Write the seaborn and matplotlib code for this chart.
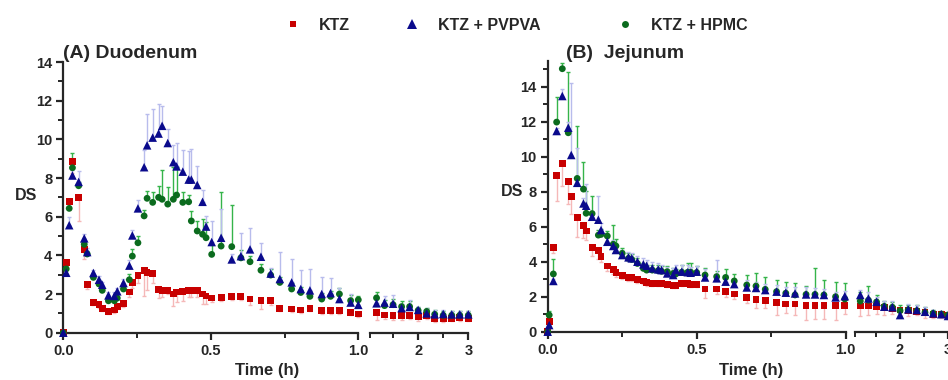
import numpy as np
import pandas as pd
import matplotlib.pyplot as plt
import seaborn as sns
from matplotlib.lines import Line2D
from matplotlib.ticker import MultipleLocator

sns.set_style('ticks')
plt.rcParams['font.family'] = ['Liberation Sans', 'DejaVu Sans']
plt.rcParams['font.weight'] = 'bold'

series = ['KTZ', 'KTZ + PVPVA', 'KTZ + HPMC']
draw_order = ['KTZ', 'KTZ + HPMC', 'KTZ + PVPVA']
colors = {'KTZ': '#C80000', 'KTZ + PVPVA': '#0A0A8C', 'KTZ + HPMC': '#0B6B1E'}
err_colors = {'KTZ': '#F5B8B8', 'KTZ + PVPVA': '#B8BCEC', 'KTZ + HPMC': '#35B44A'}
markers = {'KTZ': 's', 'KTZ + PVPVA': '^', 'KTZ + HPMC': 'o'}
sizes = {'KTZ': 24, 'KTZ + PVPVA': 38, 'KTZ + HPMC': 24}

# ---- (A) Duodenum ----
t_duo = [0, 0.01, 0.02, 0.031, 0.052, 0.071, 0.081, 0.102, 0.121, 0.132,
         0.153, 0.173, 0.183, 0.204, 0.224, 0.234, 0.253, 0.274, 0.284, 0.303,
         0.323, 0.335, 0.354, 0.373, 0.384, 0.405, 0.425, 0.434, 0.454, 0.472,
         0.484, 0.503, 0.535, 0.571, 0.602, 0.633, 0.670, 0.703, 0.734, 0.774,
         0.805, 0.836, 0.876, 0.906, 0.936, 0.974, 1.0,
         1.17, 1.33, 1.5, 1.67, 1.83, 2.0, 2.17, 2.33, 2.5, 2.67, 2.83, 3.0]
ktz_duo = [0, 3.65, 6.77, 8.85, 7.0, 4.3, 2.48, 1.56, 1.44, 1.27,
           1.1, 1.17, 1.36, 1.53, 2.1, 2.6, 2.97, 3.21, 3.13, 3.08,
           2.22, 2.2, 2.2, 2.0, 2.1, 2.14, 2.2, 2.2, 2.2, 2.0,
           1.9, 1.79, 1.84, 1.88, 1.88, 1.74, 1.65, 1.65, 1.27, 1.23,
           1.17, 1.27, 1.13, 1.13, 1.13, 1.05, 0.97,
           1.04, 0.92, 0.87, 0.87, 0.9, 0.83, 0.9, 0.71, 0.71, 0.75, 0.78, 0.75]
ktz_duo_err = [0, 0.15, 0.4, 0.6, 1.2, 0.5, 0.2, 0.15, 0.15, 0.15,
               0.15, 0.15, 0.15, 0.2, 0.25, 0.3, 0.4, 1.3, 0.9, 0.5,
               0.4, 0.35, 0.2, 0.6, 0.5, 0.5, 0.35, 0.35, 0.35, 0.5,
               0.4, 0.2, 0.2, 0.2, 0.2, 0.3, 0.45, 0.2, 0.15, 0.15,
               0.15, 0.15, 0.15, 0.15, 0.15, 0.15, 0.15,
               0.4, 0.2, 0.2, 0.2, 0.2, 0.2, 0.2, 0.15, 0.15, 0.15, 0.15, 0.15]
pvpva_duo = [0, 3.1, 5.56, 8.13, 7.8, 4.88, 4.17, 3.09, 2.74, 2.48,
             1.93, 1.9, 2.14, 2.57, 3.47, 5.03, 6.43, 8.56, 9.69, 10.09,
             10.3, 10.7, 9.81, 8.82, 8.6, 8.33, 7.92, 7.92, 7.64, 6.77,
             5.49, 4.69, 4.91, 3.79, 3.96, 4.31, 3.93, 3.06, 2.78, 2.6,
             2.26, 2.19, 2.0, 2.05, 1.74, 1.56, 1.44,
             1.52, 1.56, 1.5, 1.27, 1.33, 1.18, 1.0, 0.95, 0.97, 0.95, 0.95, 0.95]
pvpva_duo_err = [0, 0.2, 0.4, 0.3, 0.55, 0.25, 0.2, 0.15, 0.2, 0.15,
                 0.2, 0.2, 0.15, 0.2, 0.3, 0.3, 0.45, 0.9, 1.6, 1.5,
                 1.55, 1.05, 0.75, 0.9, 1.2, 1.1, 1.5, 1.6, 1.0, 0.6,
                 0.55, 1.08, 1.5, 0.3, 1.2, 1.1, 0.7, 0.3, 1.4, 1.2,
                 1.0, 1.1, 0.9, 0.8, 0.55, 0.44, 0.3,
                 0.35, 0.35, 0.45, 0.2, 0.35, 0.15, 0.3, 0.2, 0.2, 0.15, 0.15, 0.15]
hpmc_duo = [0, 3.3, 6.43, 8.53, 7.6, 4.57, 4.07, 2.86, 2.52, 2.19,
            1.65, 1.65, 1.79, 2.26, 2.74, 3.96, 4.65, 6.04, 6.95, 6.74,
            7.0, 6.9, 6.65, 6.9, 7.12, 6.74, 6.77, 5.78, 5.26, 5.09,
            4.91, 4.05, 4.48, 4.45, 3.87, 3.67, 3.23, 2.98, 2.6, 2.26,
            2.08, 1.88, 1.74, 1.88, 2.0, 1.66, 1.7,
            1.8, 1.4, 1.45, 1.35, 1.35, 1.15, 1.1, 0.95, 0.9, 0.9, 0.9, 0.9]
hpmc_duo_err = [0, 0.15, 0.3, 0.75, 0.2, 0.2, 0.15, 0.15, 0.2, 0.15,
                0.2, 0.2, 0.2, 0.3, 0.3, 0.35, 0.35, 0.3, 0.4, 0.55,
                0.6, 1.5, 0.9, 1.68, 1.45, 0.55, 0.35, 0.52, 0.52, 0.8,
                0.8, 0.5, 2.8, 2.15, 0.4, 0.3, 0.3, 0.3, 0.3, 0.3,
                0.3, 0.3, 0.3, 0.3, 0.3, 0.3, 0.2,
                0.3, 0.3, 0.3, 0.3, 0.3, 0.2, 0.2, 0.2, 0.2, 0.2, 0.2, 0.2]

# ---- (B) Jejunum ----
t_jej = [0, 0.005, 0.019, 0.030, 0.049, 0.069, 0.079, 0.099, 0.120, 0.129,
         0.149, 0.170, 0.179, 0.200, 0.220, 0.229, 0.250, 0.271, 0.282, 0.301,
         0.321, 0.332, 0.351, 0.371, 0.382, 0.401, 0.421, 0.430, 0.450, 0.470,
         0.480, 0.500, 0.528, 0.567, 0.597, 0.626, 0.668, 0.699, 0.730, 0.768,
         0.799, 0.830, 0.867, 0.897, 0.927, 0.966, 0.997,
         1.17, 1.34, 1.51, 1.67, 1.84, 2.0, 2.17, 2.35, 2.52, 2.69, 2.86, 3.0]
ktz_jej = [0, 0.57, 4.82, 8.95, 9.62, 8.57, 7.71, 6.51, 6.06, 5.75,
           4.82, 4.63, 4.29, 3.75, 3.56, 3.37, 3.22, 3.09, 3.09, 2.98,
           2.9, 2.8, 2.76, 2.76, 2.76, 2.7, 2.66, 2.62, 2.76, 2.76,
           2.72, 2.7, 2.44, 2.44, 2.29, 2.15, 1.96, 1.85, 1.78, 1.68,
           1.58, 1.58, 1.49, 1.51, 1.51, 1.49, 1.49,
           1.47, 1.47, 1.43, 1.37, 1.3, 1.24, 1.2, 1.16, 1.1, 1.0, 1.0, 0.95]
ktz_jej_err = [0, 0.1, 0.3, 1.5, 1.3, 1.3, 1.0, 1.1, 0.7, 0.5,
               0.5, 0.5, 0.3, 0.3, 0.25, 0.25, 0.2, 0.2, 0.2, 0.2,
               0.2, 0.2, 0.15, 0.15, 0.15, 0.15, 0.15, 0.15, 0.15, 0.15,
               0.15, 0.15, 0.5, 0.3, 0.3, 0.3, 0.3, 0.5, 0.4, 0.7,
               0.5, 0.6, 0.8, 0.8, 0.8, 0.8, 0.5,
               0.6, 0.5, 0.4, 0.4, 0.3, 0.3, 0.3, 0.2, 0.3, 0.2, 0.2, 0.2]
pvpva_jej = [0, 0.38, 2.9, 11.47, 13.47, 11.66, 10.1, 8.51, 7.33, 7.2,
             6.57, 6.4, 5.81, 5.14, 4.9, 4.67, 4.38, 4.25, 4.19, 4.0,
             3.85, 3.77, 3.62, 3.56, 3.52, 3.33, 3.24, 3.52, 3.43, 3.4,
             3.37, 3.43, 3.1, 3.05, 2.86, 2.72, 2.53, 2.5, 2.38, 2.29,
             2.23, 2.19, 2.13, 2.13, 2.1, 1.96, 2.03,
             2.1, 1.9, 1.71, 1.43, 1.4, 0.95, 1.28, 1.24, 1.14, 1.05, 1.0, 0.9]
pvpva_jej_err = [0, 0.1, 0.1, 0.2, 0.38, 0.3, 4.1, 2.0, 0.3, 1.25,
                 0.3, 1.37, 0.4, 0.3, 0.35, 0.3, 0.3, 0.3, 0.3, 0.3,
                 0.35, 0.3, 0.35, 0.35, 0.3, 0.35, 0.4, 0.3, 0.4, 0.4,
                 0.35, 0.35, 0.5, 1.05, 0.4, 0.3, 0.4, 0.35, 0.35, 0.4,
                 0.35, 0.35, 0.4, 0.35, 0.35, 0.3, 0.3,
                 0.3, 0.35, 0.3, 0.3, 0.35, 0.3, 0.3, 0.3, 0.3, 0.2, 0.2, 0.2]
hpmc_jej = [0, 0.95, 3.3, 11.98, 15.03, 11.37, np.nan, 8.76, 8.15, 6.77,
            6.75, 5.52, 5.56, 5.47, 5.0, 4.9, 4.48, 4.19, 4.13, 3.9,
            3.62, 3.52, 3.52, 3.49, 3.45, 3.43, 3.33, 3.3, 3.4, 3.4,
            3.4, 3.38, 3.24, 3.15, 3.1, 2.9, 2.67, 2.61, 2.42, 2.29,
            2.2, 2.1, 2.13, 2.13, 2.1, 2.0, 1.87,
            1.75, 1.8, 1.7, 1.45, 1.4, 1.2, 1.25, 1.2, 1.1, 1.05, 1.0, 0.95]
hpmc_jej_err = [0, 0.25, 0.83, 1.45, 0.35, 3.5, np.nan, 3.0, 1.55, 1.3,
                1.0, 0.3, 0.3, 0.3, 1.1, 0.4, 0.3, 0.3, 0.3, 0.3,
                0.3, 0.3, 0.3, 0.3, 0.3, 0.3, 0.3, 0.3, 0.4, 0.5,
                0.5, 0.4, 0.4, 0.3, 0.5, 0.4, 0.57, 0.75, 0.7, 0.65,
                0.65, 0.7, 0.5, 1.5, 0.85, 0.85, 0.9,
                0.5, 0.8, 0.4, 0.3, 0.3, 0.3, 0.3, 0.3, 0.3, 0.2, 0.2, 0.2]


def make_df(t, ktz, ktz_err, pvpva, pvpva_err, hpmc, hpmc_err):
    vals = {'KTZ': (ktz, ktz_err), 'KTZ + PVPVA': (pvpva, pvpva_err),
            'KTZ + HPMC': (hpmc, hpmc_err)}
    frames = []
    for name in draw_order:
        v, e = vals[name]
        frames.append(pd.DataFrame({'t': t, 'DS': v, 'err': e, 'series': name}))
    return pd.concat(frames, ignore_index=True).dropna()


def draw(ax, part):
    for name in draw_order:
        d = part[part['series'] == name]
        e = d['err'].to_numpy()
        z = np.zeros_like(e)
        # KTZ error bars hang downward, the polymer ones point upward
        yerr = [e, z] if name == 'KTZ' else [z, e]
        ax.errorbar(d['t'], d['DS'], yerr=yerr, fmt='none', ecolor=err_colors[name],
                    elinewidth=1.0, capsize=1.6, capthick=1.0, zorder=2, clip_on=False)
    sns.scatterplot(data=part, x='t', y='DS', hue='series', style='series', size='series',
                    hue_order=draw_order, style_order=draw_order, size_order=draw_order,
                    palette=colors, markers=markers, sizes=sizes, linewidth=0,
                    legend=False, ax=ax, zorder=3, clip_on=False)
    ax.set_xlabel('')
    ax.set_ylabel('')


def style(ax_main, ax_brk, ymax, brk_start):
    for ax in (ax_main, ax_brk):
        ax.set_ylim(0, ymax)
        for s in ('top', 'right'):
            ax.spines[s].set_visible(False)
        for s in ('left', 'bottom'):
            ax.spines[s].set_linewidth(1.6)
        ax.tick_params(which='major', length=5, width=1.6, labelsize=10.5, pad=3)
        ax.tick_params(which='minor', length=3.5, width=1.4)
    ax_main.set_xlim(0, 1.0)
    ax_main.set_xticks([0, 0.5, 1.0])
    ax_main.set_xticklabels(['0.0', '0.5', '1.0'])
    ax_main.set_xticks([0.25, 0.75], minor=True)
    ax_main.set_yticks(range(0, 15, 2))
    ax_main.yaxis.set_minor_locator(MultipleLocator(1))
    ax_brk.set_xlim(brk_start, 3.0)
    ax_brk.set_xticks([2, 3])
    ax_brk.set_xticklabels(['2', '3'])
    ax_brk.set_xticks([brk_start, 1.5, 2.5], minor=True)
    ax_brk.spines['left'].set_visible(False)
    ax_brk.set_yticks([])
    ax_brk.tick_params(axis='y', which='both', left=False)


fig = plt.figure(figsize=(9.48, 3.8), dpi=100)
W, H = 948, 380


def px_axes(x0, y_top, x1, y_bot):
    return fig.add_axes([x0 / W, 1 - y_bot / H, (x1 - x0) / W, (y_bot - y_top) / H])


axA = px_axes(63.3, 62.0, 358.3, 332.7)
axA2 = px_axes(370, 62.0, 468.3, 332.7)
axB = px_axes(547.7, 60.5, 845.7, 331.7)
axB2 = px_axes(855, 60.5, 948, 331.7)
for ax in (axA2, axB2):
    ax.patch.set_alpha(0)

duo = make_df(t_duo, ktz_duo, ktz_duo_err, pvpva_duo, pvpva_duo_err, hpmc_duo, hpmc_duo_err)
jej = make_df(t_jej, ktz_jej, ktz_jej_err, pvpva_jej, pvpva_jej_err, hpmc_jej, hpmc_jej_err)

draw(axA, duo[duo['t'] <= 1.01])
draw(axA2, duo[duo['t'] > 1.01])
draw(axB, jej[jej['t'] <= 1.01])
draw(axB2, jej[jej['t'] > 1.01])

style(axA, axA2, 14, 1.04)
style(axB, axB2, 15.5, 1.06)

# titles and axis labels
fig.text(63 / W, 1 - 54 / H, '(A) Duodenum', fontsize=14, fontweight='bold', ha='left', va='center')
fig.text(566 / W, 1 - 54 / H, '(B)  Jejunum', fontsize=14, fontweight='bold', ha='left', va='center')
fig.text(26 / W, 1 - 195 / H, 'DS', fontsize=11.5, fontweight='bold', ha='center', va='center')
fig.text(512 / W, 1 - 192 / H, 'DS', fontsize=11.5, fontweight='bold', ha='center', va='center')
fig.text(267 / W, 1 - 370 / H, 'Time (h)', fontsize=12, fontweight='bold', ha='center', va='center')
fig.text(751 / W, 1 - 370 / H, 'Time (h)', fontsize=12, fontweight='bold', ha='center', va='center')

# legend along the top
leg_x = {'KTZ': 285, 'KTZ + PVPVA': 404, 'KTZ + HPMC': 617}
leg_ms = {'KTZ': 5, 'KTZ + PVPVA': 6.5, 'KTZ + HPMC': 5}
for name in series:
    h = Line2D([], [], linestyle='none', marker=markers[name], color=colors[name],
               markersize=leg_ms[name], markeredgewidth=0)
    fig.legend(handles=[h], labels=[name], loc='center left',
               bbox_to_anchor=(leg_x[name] / W, 1 - 25 / H), frameon=False,
               borderpad=0, borderaxespad=0, handlelength=1.0, handletextpad=1.1,
               prop={'size': 11.5, 'weight': 'bold'})

fig.savefig('out.png', dpi=100)
